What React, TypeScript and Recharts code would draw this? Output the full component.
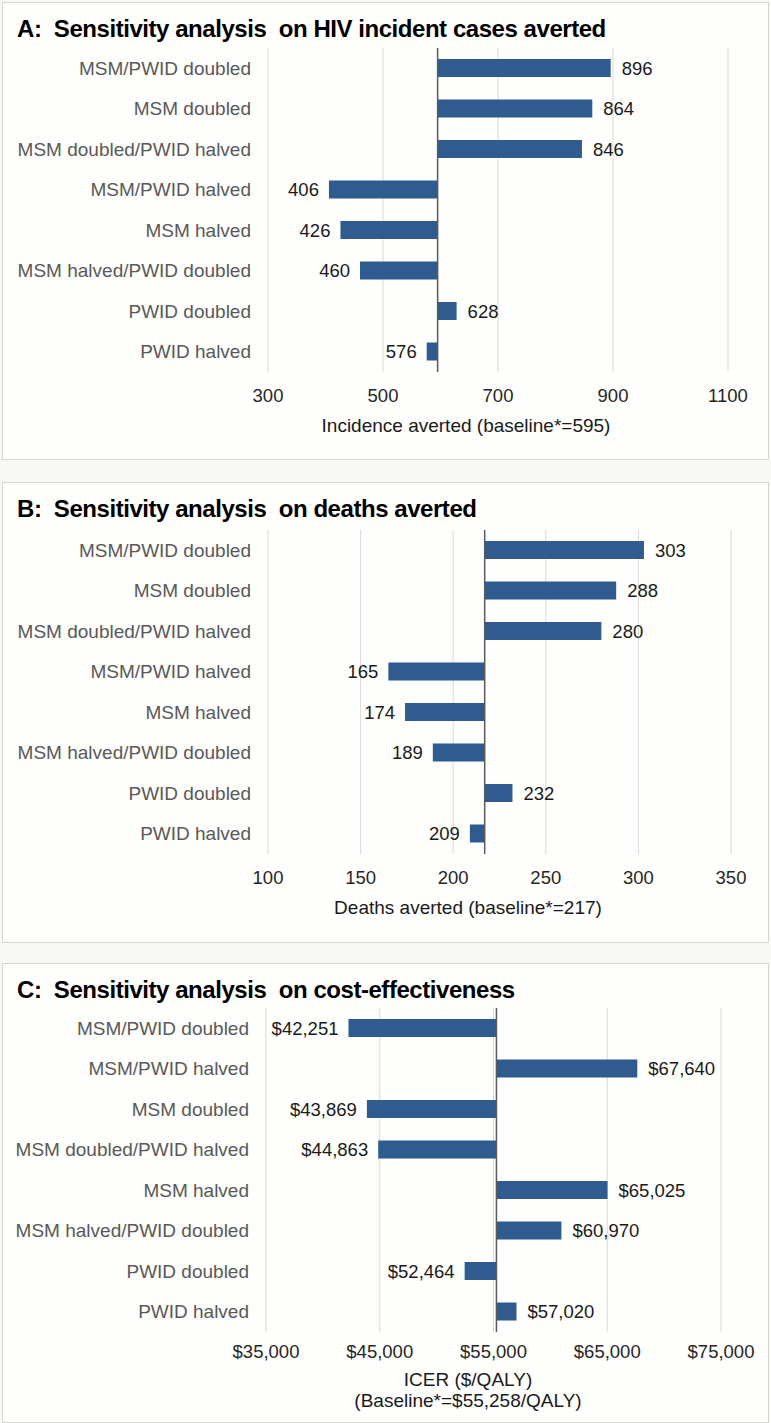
import React from 'react';
import { BarChart, Bar, XAxis, YAxis, CartesianGrid, ReferenceLine, LabelList } from 'recharts';

// Panel A – HIV incident cases averted
const categoriesA = [
  'MSM/PWID doubled',
  'MSM doubled',
  'MSM doubled/PWID halved',
  'MSM/PWID halved',
  'MSM halved',
  'MSM halved/PWID doubled',
  'PWID doubled',
  'PWID halved',
];
const valuesA = [896, 864, 846, 406, 426, 460, 628, 576];
const baselineA = 595;
const ticksA = [300, 500, 700, 900, 1100];

// Panel B – deaths averted
const categoriesB = categoriesA;
const valuesB = [303, 288, 280, 165, 174, 189, 232, 209];
const baselineB = 217;
const ticksB = [100, 150, 200, 250, 300, 350];

// Panel C – cost-effectiveness (ICER)
const categoriesC = [
  'MSM/PWID doubled',
  'MSM/PWID halved',
  'MSM doubled',
  'MSM doubled/PWID halved',
  'MSM halved',
  'MSM halved/PWID doubled',
  'PWID doubled',
  'PWID halved',
];
const valuesC = [42251, 67640, 43869, 44863, 65025, 60970, 52464, 57020];
const baselineC = 55258;
const ticksC = [35000, 45000, 55000, 65000, 75000];

const FONT = '"Liberation Sans", Arial, sans-serif';
const BAR_COLOR = '#2f5b8f';

const plain = (v: number) => String(v);
const dollars = (v: number) => '$' + v.toLocaleString('en-US');

interface PanelProps {
  title: string;
  categories: string[];
  values: number[];
  baseline: number;
  ticks: number[];
  fmt: (v: number) => string;
  axisTitle: string[];
  axisTitleX: number;
  axisTitleTop: number;
  top: number;
  height: number;
  plotTop: number;
  plotLeft: number;
  plotRight: number;
  tickMargin: number;
}

const Panel: React.FC<PanelProps> = (p) => {
  const data = p.categories.map((name, i) => ({
    name,
    value: p.values[i],
    range: [Math.min(p.baseline, p.values[i]), Math.max(p.baseline, p.values[i])],
  }));
  const plotHeight = 324;
  const chartTop = p.plotTop - 10;

  // value label sits on the far side of the bar from the baseline
  const renderLabel = (props: any) => {
    const { x, y, width, height, index } = props;
    const d = data[index];
    if (!d) return null;
    const right = d.value >= p.baseline;
    const tx = right ? x + width + 11 : x - 10;
    return (
      <text
        x={tx}
        y={y + height / 2}
        dy="0.36em"
        textAnchor={right ? 'start' : 'end'}
        fill="#1a1a1a"
        fontSize={18.5}
        fontFamily={FONT}
      >
        {p.fmt(d.value)}
      </text>
    );
  };

  return (
    <>
      <div
        style={{
          position: 'absolute',
          left: 2,
          top: p.top,
          width: 765,
          height: p.height,
          border: '1px solid #d6d6d2',
          background: '#fefefc',
        }}
      />
      <div
        style={{
          position: 'absolute',
          left: 17,
          top: p.top + 13,
          fontFamily: FONT,
          fontWeight: 'bold',
          fontSize: 24,
          letterSpacing: -0.45,
          color: '#000',
          whiteSpace: 'pre',
        }}
      >
        {p.title}
      </div>
      <div style={{ position: 'absolute', left: 0, top: chartTop }}>
        <BarChart
          width={771}
          height={10 + plotHeight + 40}
          data={data}
          layout="vertical"
          margin={{ top: 10, right: 771 - p.plotRight, bottom: 0, left: 0 }}
          barCategoryGap={0}
        >
          <CartesianGrid horizontal={false} vertical={true} stroke="#d9d9d9" />
          <XAxis
            type="number"
            domain={[p.ticks[0], p.ticks[p.ticks.length - 1]]}
            ticks={p.ticks}
            axisLine={false}
            tickLine={false}
            tickMargin={p.tickMargin}
            height={40}
            tick={{ fill: '#262626', fontSize: 18.5, fontFamily: FONT }}
            tickFormatter={p.fmt}
            allowDataOverflow
          />
          <YAxis
            type="category"
            dataKey="name"
            width={p.plotLeft}
            axisLine={false}
            tickLine={false}
            tickMargin={11}
            interval={0}
            tick={{ fill: '#595959', fontSize: 19, fontFamily: FONT }}
          />
          <Bar dataKey="range" fill={BAR_COLOR} barSize={18} isAnimationActive={false}>
            <LabelList dataKey="value" content={renderLabel} />
          </Bar>
          <ReferenceLine x={p.baseline} stroke="#5a5a5a" strokeWidth={1.5} />
        </BarChart>
      </div>
      {p.axisTitle.map((t, i) => (
        <div
          key={i}
          style={{
            position: 'absolute',
            left: p.axisTitleX - 200,
            width: 400,
            top: p.axisTitleTop + i * 21,
            textAlign: 'center',
            fontFamily: FONT,
            fontSize: 19,
            color: '#1a1a1a',
          }}
        >
          {t}
        </div>
      ))}
    </>
  );
};

export default function App() {
  return (
    <div
      style={{
        position: 'absolute',
        left: 0,
        top: 0,
        width: 771,
        height: 1423,
        background: '#f8f8f4',
        overflow: 'hidden',
      }}
    >
      <Panel
        title="A:  Sensitivity analysis  on HIV incident cases averted"
        categories={categoriesA}
        values={valuesA}
        baseline={baselineA}
        ticks={ticksA}
        fmt={plain}
        axisTitle={['Incidence averted (baseline*=595)']}
        axisTitleX={466}
        axisTitleTop={415}
        top={2}
        height={456}
        plotTop={48}
        plotLeft={268}
        plotRight={728}
        tickMargin={11}
      />
      <Panel
        title="B:  Sensitivity analysis  on deaths averted"
        categories={categoriesB}
        values={valuesB}
        baseline={baselineB}
        ticks={ticksB}
        fmt={plain}
        axisTitle={['Deaths averted (baseline*=217)']}
        axisTitleX={468}
        axisTitleTop={897}
        top={482}
        height={459}
        plotTop={530}
        plotLeft={268}
        plotRight={731}
        tickMargin={11}
      />
      <Panel
        title="C:  Sensitivity analysis  on cost-effectiveness"
        categories={categoriesC}
        values={valuesC}
        baseline={baselineC}
        ticks={ticksC}
        fmt={dollars}
        axisTitle={['ICER ($/QALY)', '(Baseline*=$55,258/QALY)']}
        axisTitleX={468}
        axisTitleTop={1369}
        top={963}
        height={458}
        plotTop={1008}
        plotLeft={266}
        plotRight={721}
        tickMargin={7}
      />
    </div>
  );
}
